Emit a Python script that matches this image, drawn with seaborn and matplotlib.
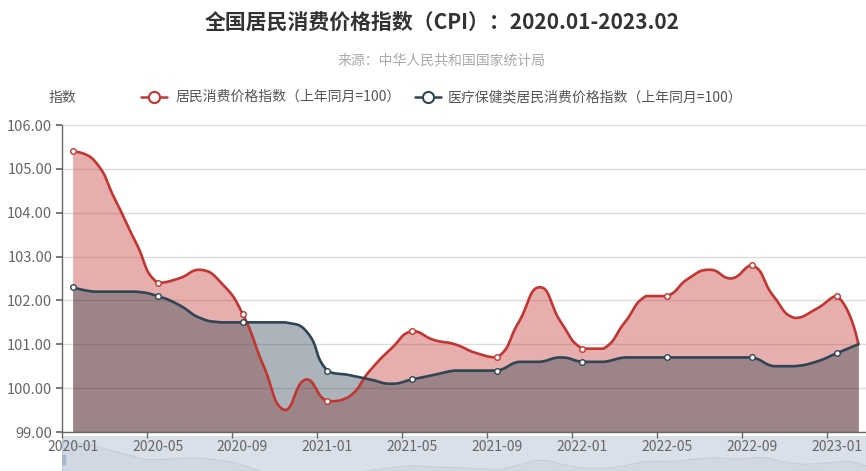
import numpy as np
import pandas as pd
import matplotlib
matplotlib.use("Agg")
import matplotlib.pyplot as plt
from matplotlib.lines import Line2D
from matplotlib.patches import Rectangle
import seaborn as sns

# monthly data, 2020-01 .. 2023-02
months = [f"{y}-{m:02d}" for y in (2020, 2021, 2022) for m in range(1, 13)] + ["2023-01", "2023-02"]
cpi = [105.4, 105.2, 104.3, 103.3, 102.4, 102.5, 102.7, 102.4, 101.7, 100.5, 99.5, 100.2,
       99.7, 99.8, 100.4, 100.9, 101.3, 101.1, 101.0, 100.8, 100.7, 101.5, 102.3, 101.5,
       100.9, 100.9, 101.5, 102.1, 102.1, 102.5, 102.7, 102.5, 102.8, 102.1, 101.6, 101.8,
       102.1, 101.0]
health_cpi = [102.3, 102.2, 102.2, 102.2, 102.1, 101.9, 101.6, 101.5, 101.5, 101.5, 101.5, 101.3,
              100.4, 100.3, 100.2, 100.1, 100.2, 100.3, 100.4, 100.4, 100.4, 100.6, 100.6, 100.7,
              100.6, 100.6, 100.7, 100.7, 100.7, 100.7, 100.7, 100.7, 100.7, 100.5, 100.5, 100.6,
              100.8, 101.0]
series_names = ["居民消费价格指数（上年同月=100）", "医疗保健类居民消费价格指数（上年同月=100）"]
colors = ["#c23531", "#2f4554"]
y_ticks = [99, 100, 101, 102, 103, 104, 105, 106]


def smooth_line(xs, ys, sx=21.2, sy=43.9, smooth=0.5, steps=24):
    # bezier smoothing like echarts "smooth: true" (with control point clamping)
    X = np.asarray(xs, float) * sx
    Y = np.asarray(ys, float) * sy
    n = len(X)
    ox, oy = [X[0]], [Y[0]]
    c0x, c0y = X[0], Y[0]
    t = np.linspace(0, 1, steps)[1:]
    for k in range(1, n):
        px, py, cx, cy = X[k - 1], Y[k - 1], X[k], Y[k]
        if k == n - 1:
            c1x, c1y, nx0, ny0 = cx, cy, cx, cy
        else:
            nx, ny = X[k + 1], Y[k + 1]
            vx, vy = nx - px, ny - py
            l0 = np.hypot(cx - px, cy - py)
            l1 = np.hypot(nx - cx, ny - cy)
            r = l1 / (l0 + l1) if l0 + l1 > 0 else 0.5
            c1x = np.clip(cx - vx * smooth * (1 - r), min(px, cx), max(px, cx))
            c1y = np.clip(cy - vy * smooth * (1 - r), min(py, cy), max(py, cy))
            nx0 = np.clip(cx + vx * smooth * r, min(nx, cx), max(nx, cx))
            ny0 = np.clip(cy + vy * smooth * r, min(ny, cy), max(ny, cy))
        bx = (1 - t) ** 3 * px + 3 * (1 - t) ** 2 * t * c0x + 3 * (1 - t) * t ** 2 * c1x + t ** 3 * cx
        by = (1 - t) ** 3 * py + 3 * (1 - t) ** 2 * t * c0y + 3 * (1 - t) * t ** 2 * c1y + t ** 3 * cy
        ox.extend(bx)
        oy.extend(by)
        c0x, c0y = nx0, ny0
    return np.array(ox) / sx, np.array(oy) / sy


sns.set_theme(style="white")
plt.rcParams["font.family"] = ["Noto Sans CJK SC", "DejaVu Sans"]

W, H = 866, 471
fig = plt.figure(figsize=(W / 100, H / 100), dpi=100)

# data zoom slider strip (drawn first, below the tick labels)
sl = fig.add_axes([62 / W, (H - 476) / H, 807 / W, 40 / H], zorder=0)
sl.set_facecolor("#d9e0ea")
idx = np.arange(len(months))
sx_, sy_ = smooth_line(idx, cpi)
sl.fill_between(sx_, sy_, min(cpi) - 1, color="#d0d8e3", lw=0)
sl.plot(sx_, sy_, color="#c3cedb", lw=0.8)
sl.set_xlim(0, len(months) - 1)
sl.set_ylim(min(cpi), max(cpi) + 1.2)
sl.add_patch(Rectangle((0, 101.6), 0.12, 1.6, color="#a7b7cc", zorder=5))
sl.axvline(0, color="#bcc8d6", lw=1)
sl.set_xticks([])
sl.set_yticks([])
for s in sl.spines.values():
    s.set_visible(False)

ax = fig.add_axes([62 / W, (H - 432) / H, 807 / W, 307 / H], zorder=1)
ax.patch.set_alpha(0)

rows = []
for name, vals, c in zip(series_names, [cpi, health_cpi], colors):
    cx, cy = smooth_line(idx, vals)
    rows.append(pd.DataFrame({"x": cx, "y": cy, "series": name}))
    ax.fill_between(cx, cy, y_ticks[0], color=c, alpha=0.4, lw=0, zorder=2)
curves = pd.concat(rows, ignore_index=True)

sns.lineplot(data=curves, x="x", y="y", hue="series", palette=colors, sort=False,
             estimator=None, lw=1.9, legend=False, ax=ax, zorder=4)

# hollow symbols on every 4th month (same interval as the axis labels)
for name, vals, c in zip(series_names, [cpi, health_cpi], colors):
    sub = pd.DataFrame({"x": idx, "y": vals})
    sub = sub[sub["x"] % 4 == 0]
    ax.scatter(sub["x"], sub["y"], s=16, facecolor="white", edgecolor=c, lw=1, zorder=5)

ax.set_xlim(-0.5, len(months) - 0.5)
ax.set_ylim(y_ticks[0], y_ticks[-1])
ax.set_yticks(y_ticks)
ax.set_yticklabels([f"{v:.2f}" for v in y_ticks])
ax.yaxis.grid(True, color="#dcdcdc", lw=1)
ax.set_axisbelow(True)
ax.set_xticks(idx[::4])
ax.set_xticklabels(months[::4])
ax.set_xticks(np.concatenate([[-0.5], idx[4::4] - 0.5]), minor=True)
ax.tick_params(axis="x", which="major", length=0, pad=6, labelsize=10, labelcolor="#666")
ax.tick_params(axis="x", which="minor", length=4, color="#666", direction="out")
ax.tick_params(axis="y", length=4, color="#666", direction="out", pad=3, labelsize=10.5, labelcolor="#666")
ax.tick_params(axis="both", which="both", bottom=True, left=True)
ax.set_xlabel("")
ax.set_ylabel("")
for side in ("top", "right"):
    ax.spines[side].set_visible(False)
for side in ("left", "bottom"):
    ax.spines[side].set_color("#666")
    ax.spines[side].set_linewidth(1)

# titles
fig.text(442 / W, 1 - 22 / H, "全国居民消费价格指数（CPI）：2020.01-2023.02", ha="center", va="center",
         fontsize=15, fontweight="bold", color="#333")
fig.text(442 / W, 1 - 60 / H, "来源：中华人民共和国国家统计局", ha="center", va="center",
         fontsize=10, color="#aaa")
fig.text(62 / W, 1 - 98 / H, "指数", ha="center", va="center", fontsize=10, color="#555")

# legend
ly = 1 - 97 / H
for (x0, tx), name, c in zip([(141, 175), (415, 448)], series_names, colors):
    fig.add_artist(Line2D([x0 / W, (x0 + 26) / W], [ly, ly], transform=fig.transFigure, color=c, lw=1.8))
    fig.add_artist(Line2D([(x0 + 13) / W], [ly], transform=fig.transFigure, marker="o", ms=8,
                          mfc="white", mec=c, mew=1.5, lw=0))
    fig.text(tx / W, ly, name, ha="left", va="center", fontsize=10, color="#555")

fig.savefig("out.png", dpi=100)
